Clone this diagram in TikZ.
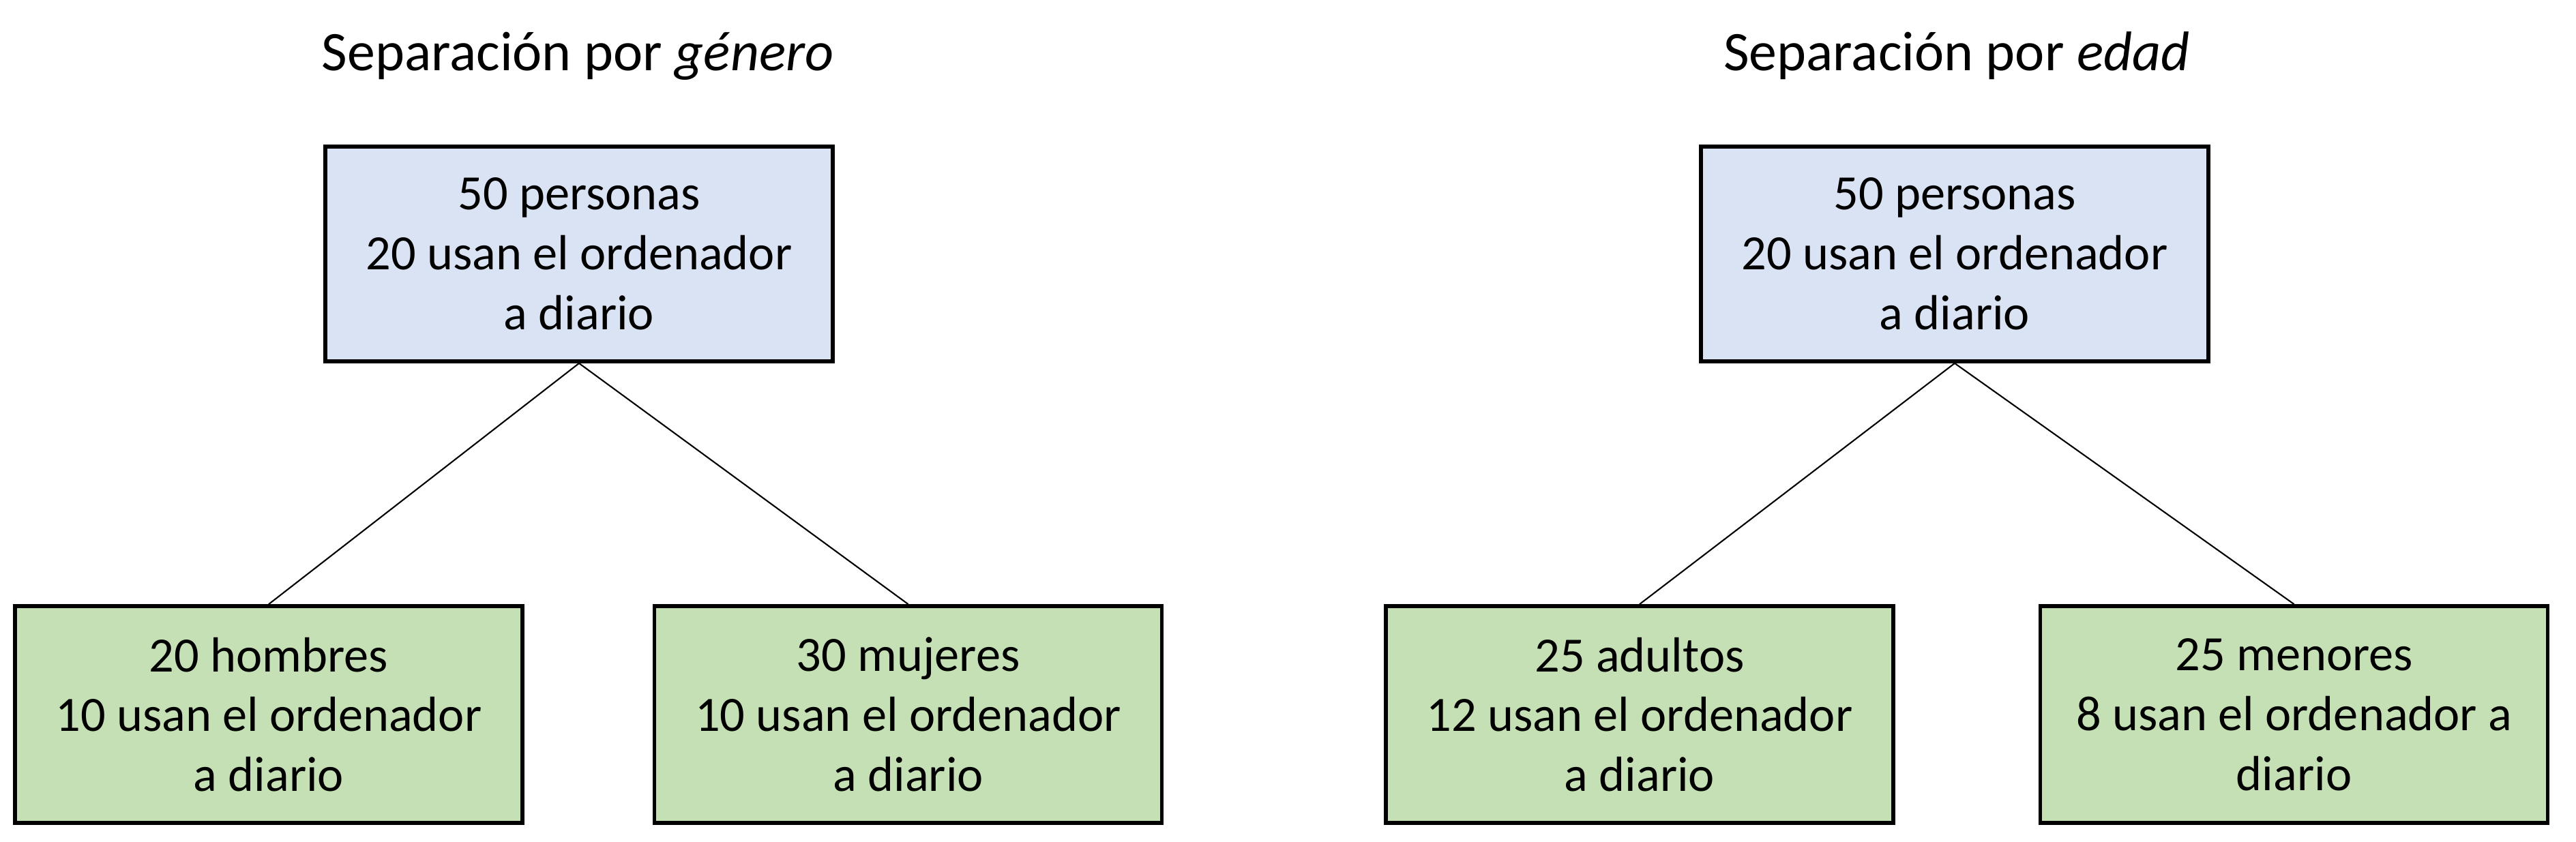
\documentclass[tikz,border=0pt]{standalone}
\usepackage{fontspec}
\setmainfont{Carlito}
\usetikzlibrary{positioning}
\definecolor{rootfill}{HTML}{DAE3F3}
\definecolor{leaffill}{HTML}{C5E0B4}

\begin{document}
\begin{tikzpicture}[
    node distance=1.88cm,
    every node/.style={font=\fontsize{20.6}{25}\selectfont},
    heading/.style={font=\fontsize{23.3}{28}\selectfont, anchor=base},
    root/.style={draw, line width=1.6pt, align=center, minimum width=7.44cm, minimum height=3.15cm, fill=rootfill},
    leaf/.style={draw, line width=1.6pt, align=center, minimum width=7.44cm, minimum height=3.18cm, fill=leaffill},
    link/.style={line width=0.6pt}
]
\useasboundingbox (0,0) rectangle (37.77,-12.34);
% split by gender
\node[heading] (gtitle) at (8.47,-1.03) {Separación por \textit{género}};
\node[root] (groot) at (8.49,-3.725) {50 personas\\20 usan el ordenador\\a diario};
\node[leaf] (gmen) at (3.94,-10.48) {20 hombres\\10 usan el ordenador\\a diario};
\node[leaf, right=of gmen] (gwomen) {30 mujeres\\10 usan el ordenador\\a diario};
\draw[link] (groot.south) -- (gmen.north);
\draw[link] (groot.south) -- (gwomen.north);
% split by age
\node[heading] (atitle) at (28.69,-1.03) {Separación por \textit{edad}};
\node[root] (aroot) at (28.66,-3.725) {50 personas\\20 usan el ordenador\\a diario};
\node[leaf] (aadult) at (24.04,-10.48) {25 adultos\\12 usan el ordenador\\a diario};
\node[leaf, right=2.1cm of aadult] (aminor) {25 menores\\8 usan el ordenador a\\diario};
\draw[link] (aroot.south) -- (aadult.north);
\draw[link] (aroot.south) -- (aminor.north);
\end{tikzpicture}
\end{document}
